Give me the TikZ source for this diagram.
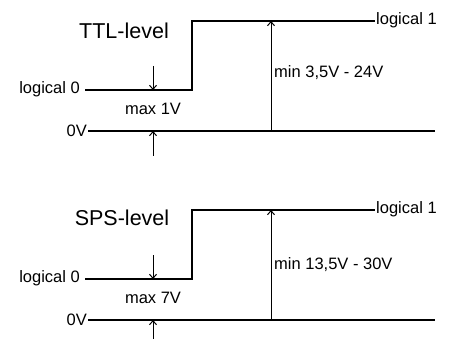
\documentclass[tikz,border=0pt]{standalone}
\usepackage{fontspec}
\setmainfont{Liberation Sans}
\usepackage{tikz}
\usetikzlibrary{arrows.meta, positioning, calc}

\tikzset{
    signal/.style={line width=2.6pt},
    base/.style={line width=1.3pt},
    meas/.style={line width=1pt, -{Straight Barb[length=4pt, width=7pt]}},
    lbl/.style={inner sep=1pt, font=\fontsize{16.5}{19}\selectfont},
    title/.style={inner sep=1pt, font=\fontsize{21.5}{25}\selectfont}
}

\begin{document}
\begin{tikzpicture}[x=1pt, y=-1pt]
    \useasboundingbox (0,0) rectangle (449,339);

    % TTL-level
    \node[title] (ttitle) at (124,31) {TTL-level};
    \node[lbl, anchor=east, inner xsep=5pt] (tlo) at (85,89) {logical 0};
    \node[lbl, anchor=west] (thi) at (375,20) {logical 1};
    \node[lbl, anchor=east] (tzero) at (88,131) {0V};
    \coordinate (tstep) at (192,21);
    \coordinate (tend) at (435,131);
    \draw[signal] (tlo.east |- 0,90) -| (tstep) -- (thi.west |- tstep);
    \draw[base] (tzero.east |- tend) -- (tend);

    % max / min marks
    \coordinate (tdown) at (153,66);
    \coordinate (tup) at (153,156);
    \coordinate (ttop) at (271,21);
    \draw[meas] (tdown) -- (tdown |- 0,90);
    \draw[meas] (tup) -- (tup |- tend);
    \draw[meas, {Straight Barb[length=4pt, width=7pt]}-] (ttop) -- (ttop |- tend);
    \node[lbl] (tmax) at (153,109) {max 1V};
    \node[lbl, anchor=west] (tmin) at (273,73) {min 3,5V - 24V};

    % SPS-level
    \node[title] (stitle) at (122,218) {SPS-level};
    \node[lbl, anchor=east, inner xsep=5pt] (slo) at (85,278) {logical 0};
    \node[lbl, anchor=west] (shi) at (375,209) {logical 1};
    \node[lbl, anchor=east] (szero) at (88,320) {0V};
    \coordinate (sstep) at (192,210);
    \coordinate (send) at (435,320);
    \draw[signal] (slo.east |- 0,279) -| (sstep) -- (shi.west |- sstep);
    \draw[base] (szero.east |- send) -- (send);

    % max / min marks
    \coordinate (sdown) at (153,255);
    \coordinate (sup) at (153,340);
    \coordinate (stop) at (271,210);
    \draw[meas] (sdown) -- (sdown |- 0,279);
    \draw[meas] (sup) -- (sup |- send);
    \draw[meas, {Straight Barb[length=4pt, width=7pt]}-] (stop) -- (stop |- send);
    \node[lbl] (smax) at (153,298) {max 7V};
    \node[lbl, anchor=west] (smin) at (273,265) {min 13,5V - 30V};
\end{tikzpicture}
\end{document}
